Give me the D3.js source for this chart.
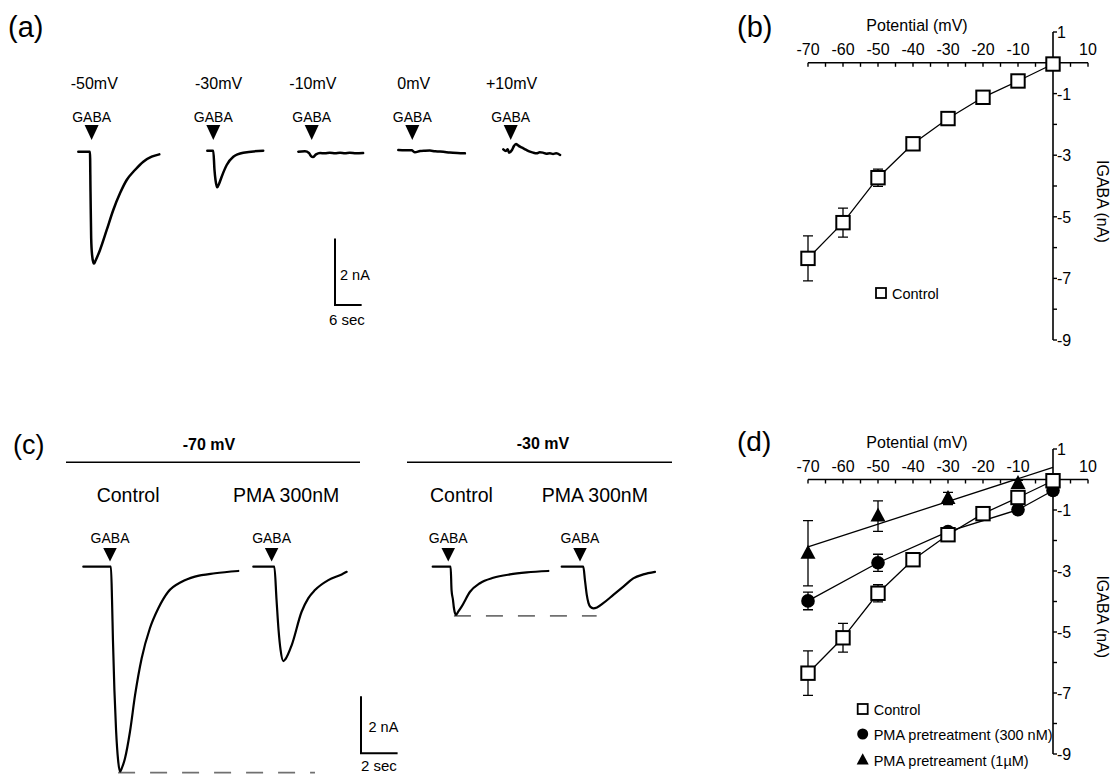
<!DOCTYPE html>
<html><head><meta charset="utf-8">
<script src="https://cdn.jsdelivr.net/npm/d3@7"></script>
<style>
body{margin:0;background:#fff}
text{font-family:"Liberation Sans",Arial,sans-serif;fill:#000}
</style>
</head><body>
<svg id="fig" width="1110" height="780"></svg>
<script>
// ---------------- DATA ----------------
// I-V data (mV, nA)
const ivVoltage = [-70,-60,-50,-40,-30,-20,-10,0];
const controlMean = [-6.35,-5.19,-3.73,-2.63,-1.81,-1.12,-0.59,-0.04];
const controlErr  = [0.73,0.47,0.28,0.1,0.1,0.1,0.1,0.05];
const pma300Voltage = [-70,-50,-30,-10,0];
const pma300Mean = [-3.98,-2.73,-1.71,-0.99,-0.36];
const pma300Err  = [0.29,0.28,0.1,0.1,0.1];
const pma1Voltage = [-70,-50,-30,-10];
const pma1Mean = [-2.42,-1.2,-0.62,-0.13];
const pma1Err  = [1.07,0.5,0.2,0.1];
const xTickLabels = [-70,-60,-50,-40,-30,-20,-10,10];
const yTickLabels = [1,-1,-3,-5,-7,-9];

// Current traces (time s, current nA)
const traceAm50 = [[0,0],[2.63,0],[2.75,-1.2],[2.9,-2.6],[3.1,-3.1],[3.4,-3.33],[3.55,-3.36],[3.85,-3.28],[4.89,-2.95],[6.4,-2.35],[7.88,-1.75],[9.39,-1.25],[10.9,-0.85],[12.76,-0.55],[14.64,-0.3],[16.53,-0.15],[18.24,-0.08]];
const traceAm30 = [[0,0],[1.35,0],[1.62,-0.58],[1.85,-0.88],[2.25,-1.1],[2.63,-1.0],[3.24,-0.78],[4.37,-0.43],[5.86,-0.18],[8.1,-0.06],[12.6,0]];
const traceAm10 = [[0,0],[1.5,0.01],[2.4,-0.04],[2.86,-0.13],[3.3,-0.16],[4.0,-0.08],[4.9,-0.04],[6.0,-0.05],[7.1,-0.03],[8.3,-0.05],[9.4,-0.03],[10.5,-0.05],[11.6,-0.03],[13,-0.05],[14.6,-0.04]];
const traceA0 = [[0,0],[1.5,-0.01],[3.0,-0.01],[3.76,-0.07],[4.9,-0.03],[6,-0.02],[7.1,-0.015],[8.3,-0.04],[9.4,-0.045],[10.5,-0.06],[11.6,-0.075],[13.3,-0.09],[15.0,-0.1]];
const traceAp10 = [[0,0],[0.6,-0.05],[1.0,0.0],[1.28,-0.1],[1.96,-0.02],[2.4,0.1],[2.86,0.16],[3.3,0.12],[3.76,0.08],[4.5,0.03],[5.2,-0.02],[6.0,-0.07],[6.7,-0.1],[7.5,-0.12],[8.2,-0.09],[8.9,-0.1],[9.7,-0.13],[10.5,-0.12],[11.2,-0.14],[11.9,-0.12],[12.8,-0.17]];
const traceC70ctrl = [[0,0],[1.51,0],[1.57,-1.17],[1.62,-2.57],[1.70,-4.33],[1.79,-5.73],[1.90,-6.78],[2.01,-7.19],[2.11,-7.06],[2.28,-6.72],[2.55,-5.79],[2.83,-4.5],[3.19,-3.21],[3.64,-2.16],[4.10,-1.46],[4.64,-0.88],[5.38,-0.53],[6.10,-0.35],[7.20,-0.23],[8.47,-0.15]];
const traceC70pma = [[0,0],[1.15,0],[1.27,-1.17],[1.38,-2.22],[1.49,-2.92],[1.64,-3.31],[1.76,-3.24],[2.10,-2.75],[2.64,-1.58],[3.0,-1.11],[3.37,-0.82],[4.1,-0.47],[4.83,-0.27],[5.1,-0.18]];
const traceC30ctrl = [[0,0],[0.98,0],[1.03,-0.82],[1.11,-1.17],[1.16,-1.45],[1.27,-1.69],[1.38,-1.59],[1.58,-1.4],[2.04,-0.88],[2.58,-0.58],[3.31,-0.39],[4.22,-0.27],[5.14,-0.2],[6.32,-0.15]];
const traceC30pma = [[0,0],[1.18,0],[1.27,-0.47],[1.37,-0.99],[1.46,-1.27],[1.57,-1.41],[1.73,-1.46],[1.93,-1.43],[2.27,-1.28],[2.82,-0.99],[3.37,-0.70],[3.91,-0.41],[4.46,-0.27],[5.1,-0.18]];
const gabaTimesA = [3.0, 1.35, 3.02, 3.15, 1.67];
const gabaTimesC = [1.46, 1.0, 0.85, 1.0];
const voltageLabelsA = ["-50mV","-30mV","-10mV","0mV","+10mV"];
const dashEndTimes = [3.37, 1.91];

// ---------------- DRAW ----------------
const svg = d3.select("#fig");

function txt(g, x, y, s, size, anchor, weight) {
  return g.append("text").attr("x", x).attr("y", y).text(s)
    .attr("font-size", size).attr("text-anchor", anchor || "start")
    .attr("font-weight", weight || "normal");
}

// panel letters
txt(svg, 8, 37, "(a)", 29);
txt(svg, 737, 37, "(b)", 29);
txt(svg, 13, 454, "(c)", 27);
txt(svg, 737, 451, "(d)", 28);

// ---- trace helpers ----
function traceScales(x0, y0, pxPerSec, pxPerNA) {
  const x = d3.scaleLinear().domain([0, 1]).range([x0, x0 + pxPerSec]);
  const y = d3.scaleLinear().domain([0, -1]).range([y0, y0 + pxPerNA]);
  return {x, y};
}
function drawTrace(g, data, sc, w) {
  const line = d3.line().x(d => sc.x(d[0])).y(d => sc.y(d[1])).curve(d3.curveMonotoneX);
  g.append("path").attr("d", line(data)).attr("fill", "none").attr("stroke", "#000")
    .attr("stroke-width", w).attr("stroke-linejoin", "round").attr("stroke-linecap", "round");
}
function arrow(g, ax, tipY, w, h) {
  g.append("path").attr("d", `M${ax - w/2},${tipY - h}L${ax + w/2},${tipY - h}L${ax},${tipY}Z`).attr("fill", "#000");
}

// ---- Panel (a) ----
const gA = svg.append("g");
const PX_S_A = 4.44, PX_NA_A = 33.3;
const originsA = [[78.3,151.7],[207.3,150.7],[298.3,151.7],[398.3,150],[503.3,149.3]];
const labelXA = [70.7,195,289.3,397.3,486];
const tracesA = [traceAm50, traceAm30, traceAm10, traceA0, traceAp10];
tracesA.forEach((tr, i) => {
  const sc = traceScales(originsA[i][0], originsA[i][1], PX_S_A, PX_NA_A);
  drawTrace(gA, tr, sc, 2.5);
  const ax = sc.x(gabaTimesA[i]);
  arrow(gA, ax, 140, 14, 15);
  txt(gA, ax, 121.5, "GABA", 14, "middle");
  txt(gA, labelXA[i], 89.3, voltageLabelsA[i], 16);
});
// scale bar (a): 2 nA, 6 s
{
  const sc = traceScales(335, 305, PX_S_A, PX_NA_A);
  gA.append("path").attr("d", `M${sc.x(0)},${sc.y(2)}L${sc.x(0)},${sc.y(0)}L${sc.x(6)},${sc.y(0)}`)
    .attr("fill", "none").attr("stroke", "#000").attr("stroke-width", 2);
  txt(gA, 340, 279.5, "2 nA", 14.5);
  txt(gA, 329, 325, "6 sec", 15);
}

// ---- Panel (c) ----
const gC = svg.append("g");
const PX_S_C = 18.3, PX_NA_C = 28.5;
const originsC = [[83.3,566.7],[253.3,566.7],[432.7,566.7],[561.7,566.7]];
const tracesC = [traceC70ctrl, traceC70pma, traceC30ctrl, traceC30pma];
const scC = originsC.map(o => traceScales(o[0], o[1], PX_S_C, PX_NA_C));
// dashed peak reference lines
[[0,1],[2,3]].forEach((pair, k) => {
  const ctrl = tracesC[pair[0]];
  const peak = ctrl.reduce((a, b) => b[1] < a[1] ? b : a);
  const s0 = scC[pair[0]], s1 = scC[pair[1]];
  gC.append("line").attr("x1", s0.x(peak[0]) - 2).attr("x2", s1.x(dashEndTimes[k]))
    .attr("y1", s0.y(peak[1]) + 1).attr("y2", s0.y(peak[1]) + 1)
    .attr("stroke", "#707070").attr("stroke-width", 1.6).attr("stroke-dasharray", "17,15");
});
tracesC.forEach((tr, i) => {
  drawTrace(gC, tr, scC[i], 2.2);
  const ax = scC[i].x(gabaTimesC[i]);
  arrow(gC, ax, 561.5, 13.5, 13.5);
  txt(gC, ax, 542.5, "GABA", 14, "middle");
});
txt(gC, 96.7, 501.7, "Control", 19.5);
txt(gC, 233, 501.7, "PMA 300nM", 19.5);
txt(gC, 430, 501.7, "Control", 19.5);
txt(gC, 541.7, 501.7, "PMA 300nM", 19.5);
txt(gC, 209, 450, "-70 mV", 16, "middle", "bold");
txt(gC, 543, 448.5, "-30 mV", 16, "middle", "bold");
gC.append("line").attr("x1", 66).attr("x2", 360).attr("y1", 462.3).attr("y2", 462.3).attr("stroke", "#000").attr("stroke-width", 1.6);
gC.append("line").attr("x1", 407).attr("x2", 672).attr("y1", 462.3).attr("y2", 462.3).attr("stroke", "#000").attr("stroke-width", 1.6);
// scale bar (c): 2 nA, 2 s
{
  const sc = traceScales(361, 753.3, PX_S_C, PX_NA_C);
  gC.append("path").attr("d", `M${sc.x(0)},${sc.y(2)}L${sc.x(0)},${sc.y(0)}L${sc.x(2)},${sc.y(0)}`)
    .attr("fill", "none").attr("stroke", "#000").attr("stroke-width", 2);
  txt(gC, 368.5, 731.5, "2 nA", 14.5);
  txt(gC, 361, 770.5, "2 sec", 15);
}

// ---- I-V panels ----
function ivPanel(yTop, yBot, withPMA, legendPos) {
  const g = svg.append("g");
  const x = d3.scaleLinear().domain([-70, 10]).range([808, 1088]);
  const y = d3.scaleLinear().domain([1, -9]).range([yTop, yBot]);
  const X0 = x(0), Y0 = y(0);
  const axW = 1.6;
  // x axis
  g.append("line").attr("x1", x(-70)).attr("x2", x(10)).attr("y1", Y0).attr("y2", Y0).attr("stroke", "#000").attr("stroke-width", axW);
  d3.range(-70, 11, 5).forEach(v => {
    g.append("line").attr("x1", x(v)).attr("x2", x(v)).attr("y1", Y0).attr("y2", Y0 + 4).attr("stroke", "#000").attr("stroke-width", 1.4);
  });
  xTickLabels.forEach(v => txt(g, x(v), Y0 - 8, String(v), 16, "middle"));
  txt(g, 917, Y0 - 32, "Potential (mV)", 16, "middle");
  // y axis
  g.append("line").attr("x1", X0).attr("x2", X0).attr("y1", y(1)).attr("y2", y(-9)).attr("stroke", "#000").attr("stroke-width", axW);
  d3.range(1, -9.5, -1).forEach(v => {
    g.append("line").attr("x1", X0).attr("x2", X0 + 4).attr("y1", y(v)).attr("y2", y(v)).attr("stroke", "#000").attr("stroke-width", 1.4);
  });
  yTickLabels.forEach(v => txt(g, X0 + 4, y(v) + 6, String(v), 16));
  g.append("text").attr("transform", `translate(1097,${(y(-2.5)+y(-6.5))/2}) rotate(90)`)
    .attr("text-anchor", "middle").attr("font-size", 16).text("IGABA (nA)");

  const lineGen = d3.line().x(d => x(d[0])).y(d => y(d[1]));
  const ctrl = ivVoltage.map((v, i) => [v, controlMean[i], controlErr[i]]);
  const p300 = pma300Voltage.map((v, i) => [v, pma300Mean[i], pma300Err[i]]);
  const p1 = pma1Voltage.map((v, i) => [v, pma1Mean[i], pma1Err[i]]);
  const lines = [ctrl];
  if (withPMA) lines.push(p300);
  lines.forEach(s => g.append("path").attr("d", lineGen(s)).attr("fill", "none").attr("stroke", "#000").attr("stroke-width", 1.3));
  if (withPMA) {
    // least-squares fit for PMA 1 µM
    const mx = d3.mean(p1, d => d[0]), my = d3.mean(p1, d => d[1]);
    const slope = d3.sum(p1, d => (d[0] - mx) * (d[1] - my)) / d3.sum(p1, d => (d[0] - mx) ** 2);
    const b = my - slope * mx;
    g.append("path").attr("d", lineGen([[-70, b - 70 * slope], [0, b]])).attr("fill", "none").attr("stroke", "#000").attr("stroke-width", 1.3);
  }
  // error bars
  const allSeries = withPMA ? [ctrl, p300, p1] : [ctrl];
  allSeries.forEach(s => s.forEach(d => {
    const yt = y(d[1] + d[2]), yb = y(d[1] - d[2]), xc = x(d[0]);
    g.append("path").attr("d", `M${xc},${yt}L${xc},${yb}M${xc - 5},${yt}L${xc + 5},${yt}M${xc - 5},${yb}L${xc + 5},${yb}`)
      .attr("fill", "none").attr("stroke", "#000").attr("stroke-width", 1.3);
  }));
  const tri = (cx, cy, s) => `M${cx},${cy - 8.5 * s}L${cx + 7.5 * s},${cy + 5.5 * s}L${cx - 7.5 * s},${cy + 5.5 * s}Z`;
  if (withPMA) {
    p300.forEach(d => g.append("circle").attr("cx", x(d[0])).attr("cy", y(d[1])).attr("r", 6.8).attr("fill", "#000"));
  }
  ctrl.forEach(d => g.append("rect").attr("x", x(d[0]) - 6.7).attr("y", y(d[1]) - 6.7).attr("width", 13.4).attr("height", 13.4)
    .attr("fill", "#fff").attr("stroke", "#000").attr("stroke-width", 2));
  if (withPMA) {
    p1.forEach(d => g.append("path").attr("d", tri(x(d[0]), y(d[1]), 1)).attr("fill", "#000"));
  }
  // legend
  const [lx, ly] = legendPos;
  g.append("rect").attr("x", lx - 5).attr("y", ly - 5).attr("width", 10).attr("height", 10).attr("fill", "#fff").attr("stroke", "#000").attr("stroke-width", 1.8);
  txt(g, lx + 11, ly + 6, "Control", 14.5);
  if (withPMA) {
    g.append("circle").attr("cx", lx).attr("cy", ly + 25).attr("r", 5.5).attr("fill", "#000");
    txt(g, lx + 11, ly + 31, "PMA pretreatment (300 nM)", 14.5);
    g.append("path").attr("d", tri(lx, ly + 51, 0.8)).attr("fill", "#000");
    txt(g, lx + 11, ly + 57, "PMA pretreament (1\u00b5M)", 14.5);
  }
}
ivPanel(32, 340, false, [881, 293]);
ivPanel(449, 754, true, [862.7, 709]);
</script>
</body></html>
